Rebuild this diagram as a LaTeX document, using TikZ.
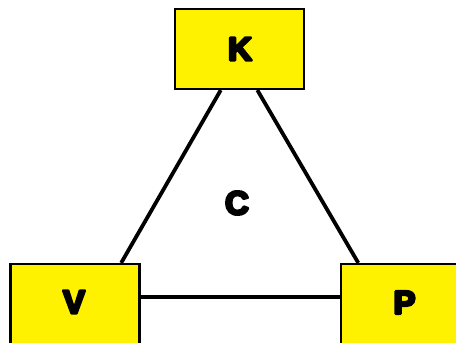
\documentclass[tikz,border=0pt]{standalone}
\usepackage{fontspec}
\newfontfamily\heavy{Liberation Sans}
\newcommand{\fat}[1]{\special{pdf:literal direct 2 Tr 2.6 w 0 G 1 j}#1\special{pdf:literal direct 0 Tr}}
\usetikzlibrary{calc}
\begin{document}
\begin{tikzpicture}[x=1pt,y=1pt,
  box/.style={draw=black,line width=2.2pt,fill=yellow,minimum width=129pt,minimum height=80pt,inner sep=0pt},
  lbl/.style={font=\heavy\bfseries\fontsize{33}{33}\selectfont,text=black},
  edge/.style={line width=3.8pt,black}]
\useasboundingbox (0,0) rectangle (456,343);
\clip (0,0) rectangle (456,343);
\node[box] (K) at (239.5,294) {};
\node[box] (V) at (75,39) {};
\node[box] (P) at (405.5,39) {};
\node[lbl] (Kt) at (240,294) {\fat{K}};
\node[lbl] (Vt) at (74,41) {\fat{V}};
\node[lbl] (Pt) at (404.5,40.5) {\fat{P}};
\node[lbl] (C) at (237,140) {\fat{C}};
\draw[edge] ($(K.south west)!0.357!(K.south east)$) -- ($(V.north west)!0.852!(V.north east)$);
\draw[edge] ($(K.south west)!0.636!(K.south east)$) -- ($(P.north west)!0.14!(P.north east)$);
\draw[edge] ($(V.east)+(0,7)$) -- ($(P.west)+(0,7)$);
\end{tikzpicture}
\end{document}
